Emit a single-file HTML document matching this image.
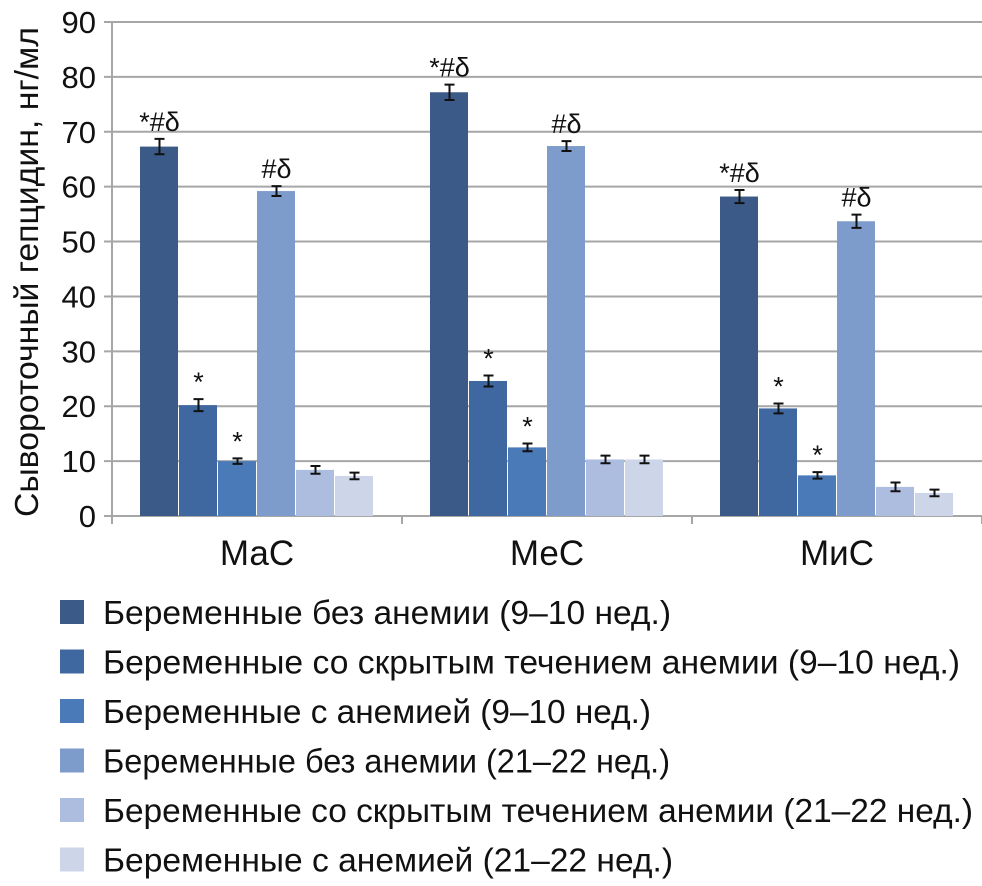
<!DOCTYPE html>
<html><head><meta charset="utf-8"><style>
body{margin:0;background:#fff;}
svg{font-family:"Liberation Sans Narrow","Liberation Sans",sans-serif;}
</style></head><body>
<svg id="c" width="982" height="881"></svg>
<script>
const categories=["МаС","МеС","МиС"];
const seriesNames=["Беременные без анемии (9–10 нед.)","Беременные со скрытым течением анемии (9–10 нед.)","Беременные с анемией (9–10 нед.)","Беременные без анемии (21–22 нед.)","Беременные со скрытым течением анемии (21–22 нед.)","Беременные с анемией (21–22 нед.)"];
const s1=[67.3,77.2,58.2];
const s2=[20.2,24.6,19.6];
const s3=[10.0,12.5,7.4];
const s4=[59.2,67.4,53.7];
const s5=[8.4,10.3,5.3];
const s6=[7.3,10.3,4.2];
const e1=[1.4,1.4,1.2];
const e2=[1.1,1.0,0.9];
const e3=[0.5,0.7,0.6];
const e4=[0.9,0.9,1.2];
const e5=[0.7,0.7,0.8];
const e6=[0.6,0.7,0.6];
const marks1=["*#δ","*#δ","*#δ"];
const marks2=["*","*","*"];
const marks3=["*","*","*"];
const marks4=["#δ","#δ","#δ"];
const yTicks=[0,10,20,30,40,50,60,70,80,90];
const series=[s1,s2,s3,s4,s5,s6];
const errs=[e1,e2,e3,e4,e5,e6];
const marks=[marks1,marks2,marks3,marks4,null,null];
const colors=["#3b5a87","#3f68a1","#4a7ab8","#7d9bcb","#adbddf","#cdd5e9"];
const svg=document.getElementById('c');
const NS="http://www.w3.org/2000/svg";
const X0=112,X1=982,Y0=516,Y90=22;
const y=v=>Y0-(v/90)*(Y0-Y90);
const gw=(X1-X0)/categories.length, bw=39;
const x=(ci,si)=>X0+ci*gw+(gw-6*bw)/2+si*bw;
function el(t,a,p){const e=document.createElementNS(NS,t);for(const k in a)e.setAttribute(k,a[k]);(p||svg).appendChild(e);return e;}
yTicks.forEach(t=>{
 const g=el('line',{x1:104,x2:X1,y1:y(t),y2:y(t),stroke:'#a6a6a6','stroke-width':2});
 
 
 const l=el('text',{x:96,y:y(t)+11,'text-anchor':'end','font-size':31,fill:'#111'});
 l.textContent=t;
 
 
});
const ax=el('line',{x1:X0,x2:X0,y1:Y90,y2:524,stroke:'#a6a6a6','stroke-width':2});


for(let i=1;i<=categories.length;i++){
 const t=el('line',{x1:X0+i*gw,x2:X0+i*gw,y1:Y0,y2:524,stroke:'#a6a6a6','stroke-width':2});
 
 
}
categories.forEach((c,ci)=>{
 series.forEach((s,si)=>{
  const bx=x(ci,si),by=y(s[ci]);
  const r=el('rect',{x:bx,y:by,width:bw-1,height:Y0-by,fill:colors[si]});
  
  
  const cx=bx+bw/2, ya=y(s[ci]+errs[si][ci]), yb=y(s[ci]-errs[si][ci]);
  const eb=el('path',{d:`M${cx},${ya}V${yb}M${cx-5},${ya}H${cx+5}M${cx-5},${yb}H${cx+5}`,stroke:'#111','stroke-width':2,fill:'none'});
  
  
  if(marks[si]){
   const m=el('text',{x:cx,y:ya-8,'text-anchor':'middle','font-size':27,fill:'#111'});
   m.textContent=marks[si][ci];
   
   
  }
 });
 const cl=el('text',{x:X0+(ci+0.5)*gw,y:565,'text-anchor':'middle','font-size':35,fill:'#111'});
 cl.textContent=c;
 
 
});
const yt=el('text',{transform:'translate(38,272) rotate(-90)','text-anchor':'middle','font-size':33,fill:'#111',textLength:490,lengthAdjust:'spacingAndGlyphs'});
yt.textContent='Сывороточный гепцидин, нг/мл';


const legendLens=[568,857,548,567,870,570];
seriesNames.forEach((n,i)=>{
 const ly=612+i*49.5;
 const sq=el('rect',{x:60,y:ly-12,width:24,height:24,fill:colors[i]});
 
 
 const t=el('text',{x:103,y:ly+12,'font-size':33,fill:'#111',textLength:legendLens[i],lengthAdjust:'spacingAndGlyphs'});
 t.textContent=n;
 
 
});
</script>
</body></html>
